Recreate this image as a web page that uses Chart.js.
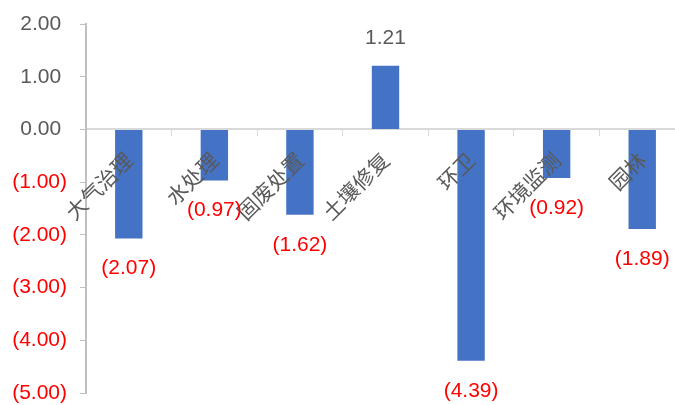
<!DOCTYPE html>
<html>
<head>
<meta charset="utf-8">
<script src="https://cdn.jsdelivr.net/npm/chart.js@4"></script>
<style>
  html, body { margin: 0; padding: 0; background: #fff; overflow: hidden; }
  #wrap { width: 686px; height: 405px; }
</style>
</head>
<body>
<div id="wrap"><canvas id="grafico"></canvas></div>
<script>
const categorias = ['大气治理', '水处理', '固废处置', '土壤修复', '环卫', '环境监测', '园林'];
const valores = [-2.07, -0.97, -1.62, 1.21, -4.39, -0.92, -1.89];
const eixoMin = -5;
const eixoMax = 2;
const eixoPasso = 1;

const CINZA = '#595959';
const VERMELHO = '#ff0000';
const FONTE_NUM = "'Liberation Sans', Arial, sans-serif";
const FONTE_CAT = "'Noto Sans CJK SC', sans-serif";

function formatar(v) {
  return v < 0 ? '(' + Math.abs(v).toFixed(2) + ')' : v.toFixed(2);
}

// zera o padding automático dos eixos para o layout usar só o padding fixo
function semPadding(s) {
  s.paddingTop = 0;
  s.paddingBottom = 0;
  s.paddingLeft = 0;
  s.paddingRight = 0;
}

// rótulos de valor: acima da barra se positivo, abaixo se negativo
const rotulosValor = {
  id: 'rotulosValor',
  afterDraw(chart) {
    const ctx = chart.ctx;
    const meta = chart.getDatasetMeta(0);
    ctx.save();
    ctx.font = '21px ' + FONTE_NUM;
    ctx.textAlign = 'center';
    ctx.textBaseline = 'middle';
    meta.data.forEach(function (bar, i) {
      const v = valores[i];
      if (v >= 0) {
        ctx.fillStyle = CINZA;
        ctx.fillText(formatar(v), bar.x, bar.y - 27);
      } else {
        ctx.fillStyle = VERMELHO;
        ctx.fillText(formatar(v), bar.x, bar.y + 30);
      }
    });
    ctx.restore();
  }
};

new Chart(document.getElementById('grafico'), {
  type: 'bar',
  data: {
    labels: categorias,
    datasets: [{
      data: valores,
      backgroundColor: '#4472c4',
      borderWidth: 0,
      barPercentage: 0.32,
      categoryPercentage: 1
    }]
  },
  options: {
    responsive: true,
    maintainAspectRatio: false,
    animation: false,
    layout: { padding: { left: 0, right: 1, top: 24, bottom: 12 } },
    plugins: {
      legend: { display: false },
      tooltip: { enabled: false }
    },
    scales: {
      x: {
        position: { y: 0 },
        afterFit: semPadding,
        border: { color: '#d9d9d9', width: 2 },
        grid: { drawOnChartArea: false, drawTicks: true, tickLength: 6, color: '#d9d9d9', offset: true },
        ticks: {
          z: 1,
          autoSkip: false,
          minRotation: 45,
          maxRotation: 45,
          padding: 12,
          color: CINZA,
          font: { family: FONTE_CAT, size: 21 }
        }
      },
      y: {
        min: eixoMin,
        max: eixoMax,
        afterFit: function (s) { semPadding(s); s.width = 86; },
        border: { color: '#bfbfbf', width: 2 },
        grid: { drawOnChartArea: false, drawTicks: true, tickLength: 6, color: '#bfbfbf' },
        ticks: {
          stepSize: eixoPasso,
          padding: 13,
          font: { family: FONTE_NUM, size: 21 },
          color: function (c) { return c.tick.value < 0 ? VERMELHO : CINZA; },
          callback: function (v) { return v < 0 ? formatar(v) : formatar(v) + ' '; }
        }
      }
    }
  },
  plugins: [rotulosValor]
});
</script>
</body>
</html>
